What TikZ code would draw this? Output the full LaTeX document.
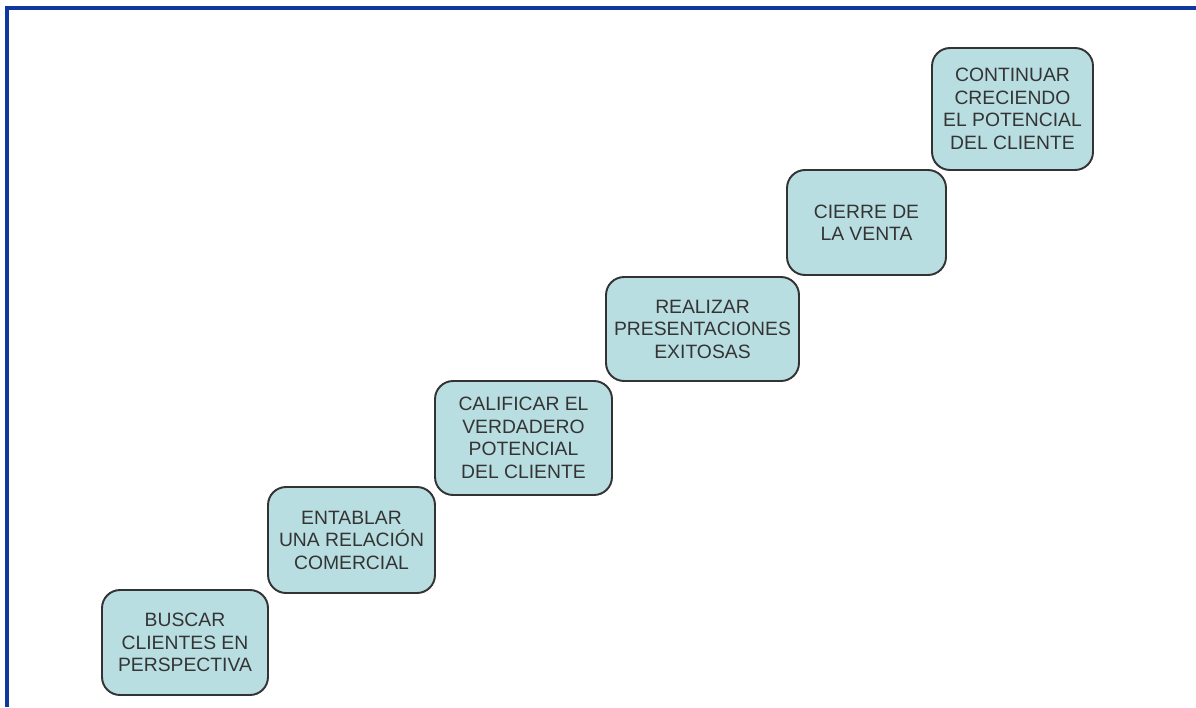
\documentclass[tikz,border=0pt]{standalone}
\usepackage{fontspec}
\setmainfont{Liberation Sans}
\usetikzlibrary{positioning}
\definecolor{framecol}{RGB}{14,56,158}
\definecolor{stepfill}{RGB}{185,222,226}
\definecolor{steptext}{RGB}{52,52,52}
\tikzstyle{stepbox}=[
    draw=black!80,
    line width=1.1pt,
    fill=stepfill,
    rounded corners=0.36cm,
    align=center,
    inner sep=0pt,
    text=steptext,
    font=\fontsize{11}{12.8}\selectfont,
]
\tikzstyle{frameline}=[framecol, line width=1.9pt]

\begin{document}
\begin{tikzpicture}[x=0.02cm, y=-0.02cm]
    \useasboundingbox (0,0) rectangle (1196,707);
    % blue page frame
    \draw[frameline] (7,707) -- (7,8) -- (1196,8);
    % steps, bottom left to top right
    \node[stepbox, minimum width=3.32cm, minimum height=2.10cm] (buscar) at (185,642.5)
        {BUSCAR\\CLIENTES EN\\PERSPECTIVA};
    \node[stepbox, minimum width=3.34cm, minimum height=2.12cm] (entablar) at (351.5,540)
        {ENTABLAR\\UNA RELACIÓN\\COMERCIAL};
    \node[stepbox, minimum width=3.54cm, minimum height=2.28cm] (calificar) at (523.5,438)
        {CALIFICAR EL\\VERDADERO\\POTENCIAL\\DEL CLIENTE};
    \node[stepbox, minimum width=3.86cm, minimum height=2.08cm] (realizar) at (702.5,329)
        {REALIZAR\\PRESENTACIONES\\EXITOSAS};
    \node[stepbox, minimum width=3.18cm, minimum height=2.10cm] (cierre) at (866.5,222.5)
        {CIERRE DE\\LA VENTA};
    \node[stepbox, minimum width=3.22cm, minimum height=2.44cm] (continuar) at (1012.5,109)
        {CONTINUAR\\CRECIENDO\\EL POTENCIAL\\DEL CLIENTE};
\end{tikzpicture}
\end{document}
